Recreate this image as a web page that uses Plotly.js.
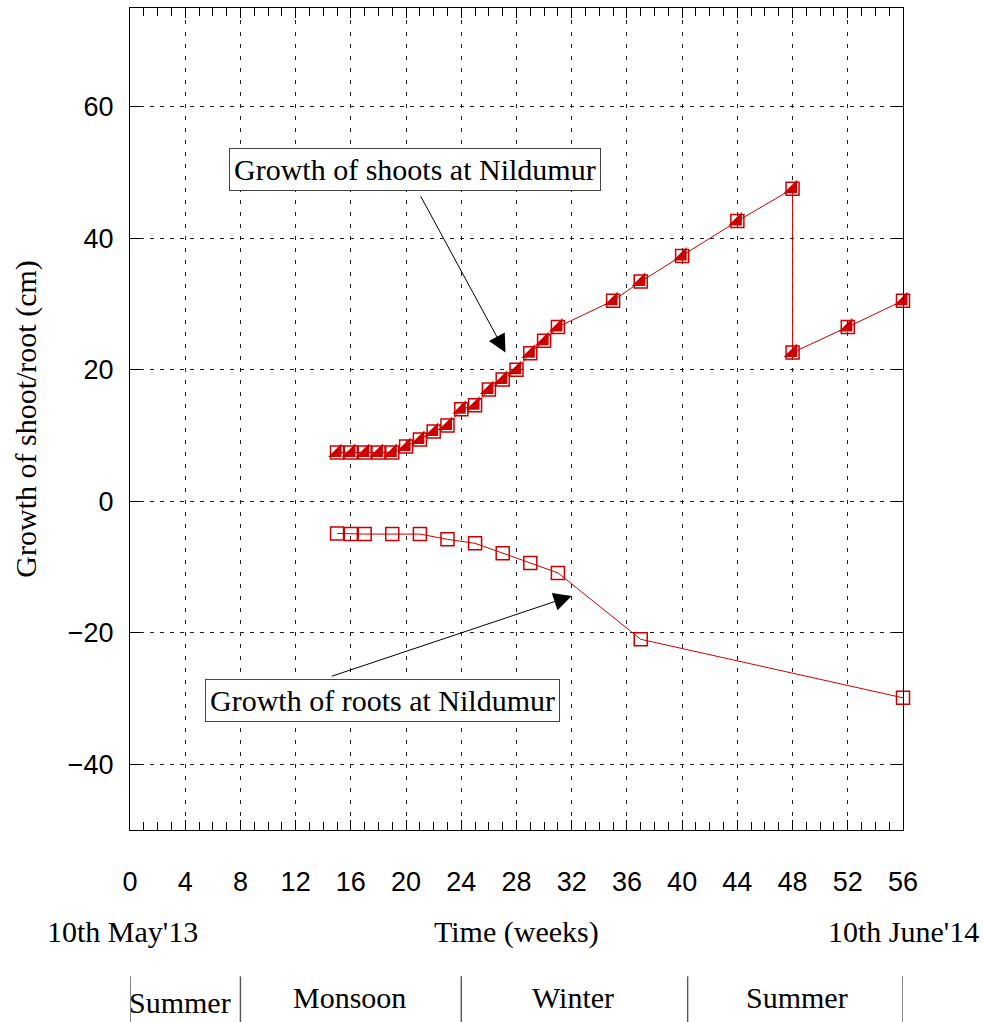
<!DOCTYPE html>
<html>
<head>
<meta charset="utf-8">
<script src="https://cdn.plot.ly/plotly-3.0.1.min.js"></script>
<style>html,body{margin:0;padding:0;background:#fff;}#chart{width:983px;height:1022px;}</style>
</head>
<body>
<div id="chart"></div>
<script>
// Shoot growth (cm) vs time (weeks)
const shootWeeks = [15,16,17,18,19,20,21,22,23,24,25,26,27,28,29,30,31,35,37,40,44,48,48,52,56];
const shootGrowth = [7.4,7.4,7.4,7.4,7.4,8.3,9.4,10.6,11.5,14.0,14.6,17.0,18.5,20.0,22.5,24.4,26.5,30.5,33.4,37.3,42.6,47.5,22.6,26.5,30.5];
// Root growth (cm, plotted downward)
const rootWeeks = [15,16,17,19,21,23,25,27,29,31,37,56];
const rootGrowth = [-4.9,-5.0,-5.0,-5.0,-5.0,-5.8,-6.4,-7.9,-9.4,-10.9,-21.0,-29.9];
// Axis ticks
const xTicks = [0,4,8,12,16,20,24,28,32,36,40,44,48,52,56];
const yTicks = [-40,-20,0,20,40,60];
// Seasons (week boundaries and labels)
const seasonBounds = [0,8,24,40.4,56];
const seasonNames = ["Summer","Monsoon","Winter","Summer"];
const seasonCenters = [3.6, 15.9, 32.1, 48.3];

const red = '#cc0000';
const serif = '"Liberation Serif","Times New Roman",serif';
const sans = '"Liberation Sans",Arial,sans-serif';

const traces = [
  {x: shootWeeks, y: shootGrowth, mode: 'lines+markers', type: 'scatter',
   line: {color: red, width: 1},
   marker: {symbol: 'square-open', size: 13, color: red, line: {width: 1.5, color: red}},
   cliponaxis: false, showlegend: false},
  {x: shootWeeks, y: shootGrowth, mode: 'markers', type: 'scatter',
   marker: {symbol: 'triangle-se', size: 15, color: red, line: {width: 0}},
   cliponaxis: false, showlegend: false},
  {x: rootWeeks, y: rootGrowth, mode: 'lines+markers', type: 'scatter',
   line: {color: red, width: 1},
   marker: {symbol: 'square-open', size: 13, color: red, line: {width: 1.5, color: red}},
   cliponaxis: false, showlegend: false}
];

const boxFont = {family: serif, size: 30, color: '#000'};
const annotations = [
  {x: 20.65, y: 50.5, xref: 'x', yref: 'y', text: 'Growth of shoots at Nildumur', showarrow: false,
   xanchor: 'center', yanchor: 'middle',
   font: boxFont, bgcolor: '#fff', bordercolor: '#444', borderwidth: 1, borderpad: 4},
  {x: 27.2, y: 22.6, ax: 21.0, ay: 46.6, xref: 'x', yref: 'y', axref: 'x', ayref: 'y', text: '',
   showarrow: true, arrowhead: 2, arrowsize: 3.6, arrowwidth: 1, arrowcolor: '#000'},
  {x: 18.3, y: -30.3, xref: 'x', yref: 'y', text: 'Growth of roots at Nildumur', showarrow: false,
   xanchor: 'center', yanchor: 'middle',
   font: boxFont, bgcolor: '#fff', bordercolor: '#444', borderwidth: 1, borderpad: 4},
  {x: 32.0, y: -14.4, ax: 14.5, ay: -26.7, xref: 'x', yref: 'y', axref: 'x', ayref: 'y', text: '',
   showarrow: true, arrowhead: 2, arrowsize: 3.6, arrowwidth: 1, arrowcolor: '#000'},
  {x: -0.0103, y: -0.124, xref: 'paper', yref: 'paper', text: "10th May'13", showarrow: false,
   xanchor: 'center', yanchor: 'middle', font: boxFont},
  {x: 0.5, y: -0.124, xref: 'paper', yref: 'paper', text: 'Time (weeks)', showarrow: false,
   xanchor: 'center', yanchor: 'middle', font: boxFont},
  {x: 1.0, y: -0.124, xref: 'paper', yref: 'paper', text: "10th June'14", showarrow: false,
   xanchor: 'center', yanchor: 'middle', font: boxFont},
  {x: -0.135, y: 0.5, xref: 'paper', yref: 'paper', text: 'Growth of shoot/root (cm)', showarrow: false,
   textangle: -90, xanchor: 'center', yanchor: 'middle', font: boxFont}
];

seasonNames.forEach((n, i) => {
  annotations.push({x: seasonCenters[i], y: i === 0 ? -0.21 : -0.204, xref: 'x', yref: 'paper', text: n,
    showarrow: false, xanchor: 'center', yanchor: 'middle', font: boxFont});
});

const shapes = seasonBounds.map(b => ({type: 'line', xref: 'x', yref: 'paper', x0: b, x1: b,
  y0: -0.178, y1: -0.24, line: {color: '#555', width: 1.4}}));

const layout = {
  width: 983, height: 1022,
  margin: {l: 130, r: 80, t: 8, b: 192},
  paper_bgcolor: '#fff', plot_bgcolor: '#fff',
  showlegend: false,
  xaxis: {range: [0, 56], tickvals: xTicks, ticks: 'inside', ticklen: 10, tickcolor: '#000',
    showline: true, linecolor: '#000', linewidth: 1, mirror: 'allticks',
    showgrid: true, gridcolor: '#222', griddash: '4px,8px', gridwidth: 1, zeroline: false,
    minor: {dtick: 1, ticks: 'inside', ticklen: 8, tickcolor: '#000', showgrid: false},
    ticklabelstandoff: 28,
    tickfont: {family: sans, size: 27, color: '#000'}},
  yaxis: {range: [-50, 75], tickvals: yTicks, ticks: 'inside', ticklen: 10, tickcolor: '#000',
    showline: true, linecolor: '#000', linewidth: 1, mirror: 'ticks',
    showgrid: true, gridcolor: '#222', griddash: '4px,6px', gridwidth: 1, zeroline: false,
    ticklabelstandoff: 10,
    tickfont: {family: sans, size: 27, color: '#000'}},
  annotations: annotations,
  shapes: shapes
};

Plotly.newPlot('chart', traces, layout, {staticPlot: true, displayModeBar: false});
</script>
</body>
</html>
